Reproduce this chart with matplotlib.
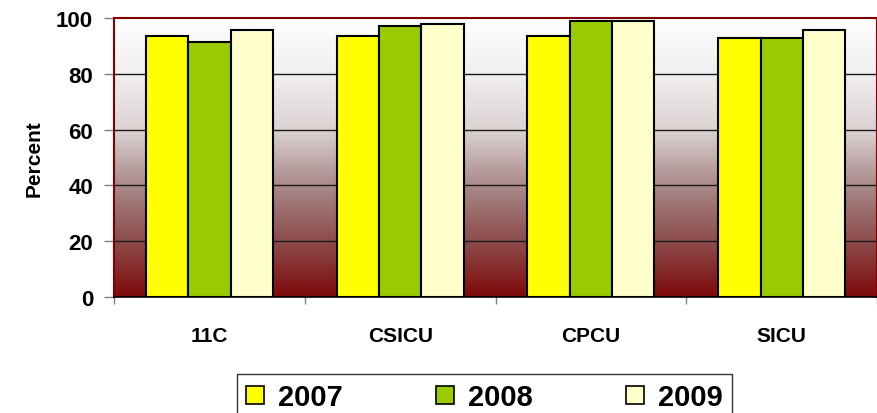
import matplotlib
matplotlib.use("Agg")
import matplotlib.pyplot as plt
import numpy as np
from matplotlib.colors import LinearSegmentedColormap
from matplotlib.patches import Patch

# data
units = ["11C", "CSICU", "CPCU", "SICU"]
years = ["2007", "2008", "2009"]
pct_2007 = [93.6, 93.6, 93.6, 92.7]
pct_2008 = [91.4, 97.1, 98.9, 92.7]
pct_2009 = [95.6, 97.7, 98.9, 95.6]
y_ticks = [0, 20, 40, 60, 80, 100]

colors = ["#ffff00", "#99cc00", "#ffffcc"]

plt.rcParams['font.family'] = ['Liberation Sans', 'DejaVu Sans']
plt.rcParams['font.weight'] = 'bold'

fig = plt.figure(figsize=(8.78, 4.14), dpi=100)
ax = fig.add_axes([0.1298, 0.280, 0.8692, 0.674])

# background gradient, white at top to dark red at the bottom
bg = LinearSegmentedColormap.from_list("bg", [
    (0.0, "#7f0a0a"), (0.2, "#8c4c4c"), (0.4, "#aa8a8a"),
    (0.6, "#dcd3d3"), (0.8, "#f1efef"), (1.0, "#ffffff")])
grad = np.linspace(0, 1, 256).reshape(-1, 1)
ax.imshow(grad, cmap=bg, origin="lower", aspect="auto",
          extent=[-0.5, len(units) - 0.5, 0, 100], zorder=0)

x = np.arange(len(units))
w = 0.222
series = [pct_2007, pct_2008, pct_2009]
for i, vals in enumerate(series):
    ax.bar(x + (i - 1) * w, vals, w, color=colors[i], edgecolor="black",
           linewidth=1.5, zorder=3)

ax.set_xlim(-0.5, len(units) - 0.5)
ax.set_ylim(0, 100)
ax.set_yticks(y_ticks)
ax.set_yticklabels([str(t) for t in y_ticks], fontsize=16, fontweight="bold")
for t in y_ticks[1:-1]:
    ax.axhline(t, color="#1a1a1a", linewidth=1.0, zorder=1)

ax.set_xticks(x)
ax.set_xticklabels(units, fontsize=15, fontweight="bold")
ax.tick_params(axis="x", which="major", length=0, pad=21)
ax.set_xticks(np.arange(len(units) + 1) - 0.5, minor=True)
ax.tick_params(axis="x", which="minor", length=5, color="#808080", width=1)
ax.tick_params(axis="y", length=7, color="#808080", width=1, pad=8)

ax.set_ylabel("Percent", fontsize=15, fontweight="bold", labelpad=9)

for s in ["left", "top", "right"]:
    ax.spines[s].set_color("#7f0000")
    ax.spines[s].set_linewidth(1.5)
ax.spines["bottom"].set_color("black")
ax.spines["bottom"].set_linewidth(1.2)

handles = [Patch(facecolor=c, edgecolor="black", linewidth=1.2) for c in colors]
leg = fig.legend(handles, years, loc="upper center", bbox_to_anchor=(0.552, 0.093),
                 ncol=3, frameon=True, fancybox=False, edgecolor="black",
                 prop={"size": 21, "weight": "bold"}, handlelength=0.6,
                 handleheight=0.6, handletextpad=0.5, columnspacing=3.2,
                 borderpad=0.3, borderaxespad=0)
leg.get_frame().set_linewidth(1.0)

fig.savefig("out.png", dpi=100)
